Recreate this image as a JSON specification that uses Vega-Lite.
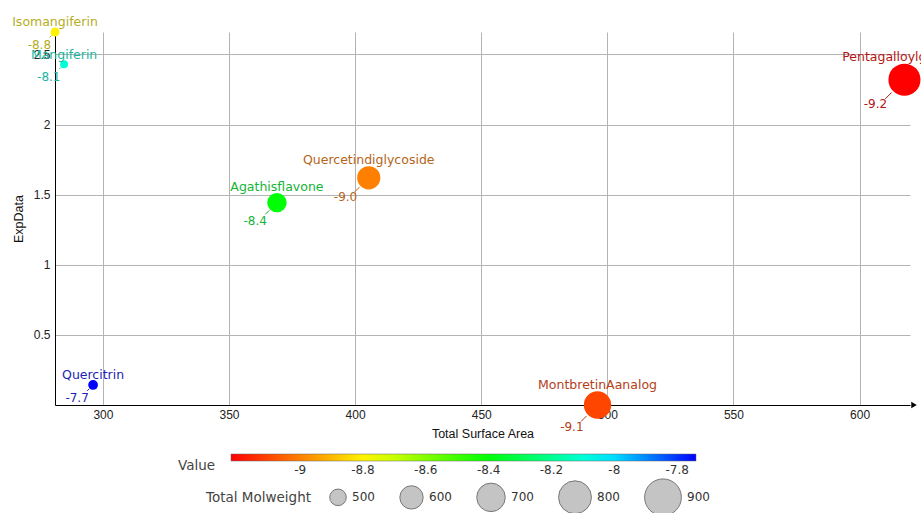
{
  "$schema": "https://vega.github.io/schema/vega-lite/v6.json",
  "autosize": {"type": "none"},
  "width": 855,
  "height": 373,
  "padding": {"left": 55, "top": 32, "right": 11, "bottom": 108},
  "background": "white",
  "config": {
    "locale": {"number": {"decimal": ".", "thousands": ",", "grouping": [3], "currency": ["", ""], "minus": "-"}},
    "view": {"stroke": null},
    "axis": {"labelFont": "Liberation Sans", "labelFontSize": 12, "labelColor": "#222", "titleFont": "Liberation Sans", "titleFontSize": 12.5, "titleFontWeight": "normal", "titleColor": "#111", "gridColor": "#b4b4b4", "gridWidth": 1, "domainColor": "#000", "domainWidth": 1, "ticks": false},
    "legend": {"labelFont": "DejaVu Sans", "labelFontSize": 12, "labelColor": "#333", "titleFont": "DejaVu Sans", "titleFontSize": 13.5, "titleFontWeight": "normal", "titleColor": "#444", "padding": 0}
  },
  "data": {"values": [
    {"name": "Isomangiferin", "tsa": 281, "exp": 2.66, "value": -8.8, "mw": 427},
    {"name": "Mangiferin", "tsa": 284.6, "exp": 2.43, "value": -8.1, "mw": 421},
    {"name": "Quercitrin", "tsa": 296.1, "exp": 0.143, "value": -7.74, "mw": 433},
    {"name": "Agathisflavone", "tsa": 369, "exp": 1.443, "value": -8.4, "mw": 538},
    {"name": "Quercetindiglycoside", "tsa": 405.4, "exp": 1.62, "value": -9.0, "mw": 598},
    {"name": "MontbretinAanalog", "tsa": 496.1, "exp": 0.0, "value": -9.1, "mw": 675},
    {"name": "Pentagalloylglucose", "tsa": 617.8, "exp": 2.32, "value": -9.22, "mw": 780}
  ]},
  "encoding": {
    "x": {"field": "tsa", "type": "quantitative", "scale": {"domain": [281, 620], "nice": false, "zero": false},
      "axis": {"values": [300, 350, 400, 450, 500, 550, 600], "grid": true, "title": "Total Surface Area", "labelPadding": 4, "titlePadding": 7}},
    "y": {"field": "exp", "type": "quantitative", "scale": {"domain": [0, 2.66], "nice": false, "zero": false},
      "axis": {"values": [0.5, 1, 1.5, 2, 2.5], "format": "~g", "grid": true, "title": "ExpData", "labelPadding": 5, "titlePadding": 8}}
  },
  "layer": [
    {
      "mark": {"type": "point", "shape": "circle", "filled": true, "opacity": 1, "strokeWidth": 0},
      "encoding": {
        "color": {"field": "value", "type": "quantitative",
          "scale": {"domain": [-9.22, -8.78, -8.41, -8.04, -7.74], "range": ["#ff0000", "#ffff00", "#00ff00", "#00ffff", "#0000ff"], "interpolate": "rgb", "clamp": true},
          "legend": {"orient": "none", "legendX": 123, "legendY": 422, "direction": "horizontal", "titleOrient": "left", "gradientLength": 465, "gradientThickness": 7, "values": [-9, -8.8, -8.6, -8.4, -8.2, -8, -7.8], "format": "~g", "title": ["", "Value"], "titleLineHeight": 17, "titlePadding": 15, "labelOffset": 4, "gradientStrokeColor": "#666", "gradientStrokeWidth": 0.5}},
        "size": {"field": "mw", "type": "quantitative",
          "scale": {"domain": [420, 900], "range": [60, 1352], "zero": false},
          "legend": {"orient": "none", "legendX": 151, "legendY": 446, "direction": "horizontal", "titleOrient": "left", "values": [500, 600, 700, 800, 900], "title": "Total Molweight", "symbolType": "circle", "symbolFillColor": "#c4c4c4", "symbolStrokeColor": "#777", "symbolStrokeWidth": 1, "symbolOpacity": 1, "columnPadding": 22, "labelOffset": 5, "titlePadding": 18}}
      }
    },
    {
      "mark": {"type": "point", "shape": "M-0.8,0.8L-1.2,1.2", "filled": false, "strokeWidth": 1, "opacity": 1},
      "encoding": {
        "color": {"field": "value", "type": "quantitative",
          "scale": {"domain": [-9.22, -8.78, -8.41, -8.04, -7.74], "range": ["#b41414", "#b4b41e", "#14b432", "#1eb4b4", "#1e1eb4"], "interpolate": "rgb", "clamp": true}, "legend": null},
        "size": {"field": "mw", "type": "quantitative", "scale": {"domain": [420, 900], "range": [60, 1352], "zero": false}, "legend": null}
      }
    },
    {
      "mark": {"type": "text", "baseline": "alphabetic", "align": "center", "font": "DejaVu Sans", "fontSize": 12.5, "theta": 0},
      "encoding": {
        "text": {"field": "name"},
        "color": {"field": "value", "type": "quantitative",
          "scale": {"domain": [-9.22, -8.78, -8.41, -8.04, -7.74], "range": ["#b41414", "#b4b41e", "#14b432", "#1eb4b4", "#1e1eb4"], "interpolate": "rgb", "clamp": true}, "legend": null},
        "radius": {"field": "mw", "type": "quantitative", "scale": {"type": "linear", "zero": false, "domain": [420, 500, 600, 700, 900], "range": [5.4, 10.2, 14.0, 16.9, 21.6]}}
      }
    },
    {
      "mark": {"type": "text", "baseline": "middle", "align": "center", "font": "DejaVu Sans", "fontSize": 12, "theta": 4.01},
      "encoding": {
        "text": {"field": "value", "format": ".1f"},
        "color": {"field": "value", "type": "quantitative",
          "scale": {"domain": [-9.22, -8.78, -8.41, -8.04, -7.74], "range": ["#b41414", "#b4b41e", "#14b432", "#1eb4b4", "#1e1eb4"], "interpolate": "rgb", "clamp": true}, "legend": null},
        "radius": {"field": "mw", "type": "quantitative", "scale": {"type": "linear", "zero": false, "domain": [420, 540, 600, 675, 780, 900], "range": [20, 28.6, 30.5, 33.6, 38, 42]}}
      }
    },
    {
      "data": {"values": [{"tip": 620, "base": 0}]},
      "mark": {"type": "point", "shape": "triangle-right", "filled": true, "color": "#000", "size": 40, "opacity": 1, "xOffset": 4},
      "encoding": {
        "x": {"field": "tip", "type": "quantitative"},
        "y": {"field": "base", "type": "quantitative"}
      }
    }
  ],
  "resolve": {"scale": {"color": "independent", "size": "independent", "radius": "independent"}}
}
